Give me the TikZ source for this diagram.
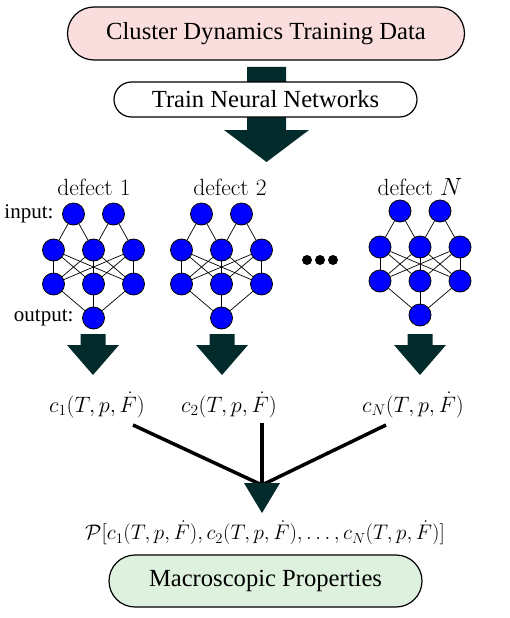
\documentclass[tikz,border=0pt]{standalone}
\usepackage{graphicx}
\usepackage[no-math]{fontspec}
\setmainfont{Liberation Serif}
\newfontfamily\lmfont{Latin Modern Roman}
\usetikzlibrary{positioning,calc,shapes.misc}

\definecolor{arrowdark}{RGB}{3,43,43}
\definecolor{datapink}{RGB}{250,222,222}
\definecolor{propgreen}{RGB}{222,240,222}

\newcommand{\cfun}[1]{\scalebox{1.075}{$#1$}}

\begin{document}
\begin{tikzpicture}[x=1pt,y=-1pt,
    stage/.style={rounded rectangle,draw,line width=1.2pt,inner sep=0pt,font=\fontsize{24.6}{28}\selectfont},
    neuron/.style={circle,draw,fill=blue,minimum size=22pt,inner sep=0pt,line width=0.8pt},
    link/.style={line width=0.7pt},
    lbl/.style={font=\fontsize{21}{24}\selectfont},
    deflbl/.style={font=\fontsize{23.5}{26}\selectfont\lmfont},
    mathlbl/.style={inner sep=1pt,font=\huge},
    dot/.style={circle,fill=black,minimum size=10pt,inner sep=0pt},
    merge/.style={line width=3.5pt}
]
\useasboundingbox (0,0) rectangle (510,618);

% Big arrow from the data to the networks
\fill[arrowdark] (247,67) -- (286,67) -- (286,130) -- (309,130) -- (266.5,162) -- (224,130) -- (247,130) -- cycle;

% Top stages
\node[stage,fill=datapink,minimum width=397pt,minimum height=53pt] (data) at (266,33.5) {Cluster Dynamics Training Data};
\node[stage,fill=white,minimum width=303pt,minimum height=35pt] (train) at (265.5,99.5) {Train Neural Networks};

% One small network per defect
\foreach \k/\cx/\dy in {1/93.5/0,2/221.5/0,N/420/-3} {
    \node[neuron] (in\k-1) at (\cx-20,214+\dy) {};
    \node[neuron] (in\k-2) at (\cx+20,214+\dy) {};
    \foreach \j/\ox in {1/-40,2/0,3/40} {
        \node[neuron] (ha\k-\j) at (\cx+\ox,250+\dy) {};
        \node[neuron] (hb\k-\j) at (\cx+\ox,284+\dy) {};
    }
    \node[neuron] (out\k) at (\cx,318+\dy) {};
    % connections
    \draw[link] (in\k-1) -- (ha\k-1);
    \draw[link] (in\k-1) -- (ha\k-2);
    \draw[link] (in\k-2) -- (ha\k-2);
    \draw[link] (in\k-2) -- (ha\k-3);
    \foreach \a in {1,2,3} {
        \foreach \b in {1,2,3} {
            \draw[link] (ha\k-\a) -- (hb\k-\b);
        }
        \draw[link] (hb\k-\a) -- (out\k);
    }
}

% Network labels
\node[deflbl] (def1) at (94,187) {defect 1};
\node[deflbl] (def2) at (230,187) {defect 2};
\node[deflbl] (defN) at (420,187) {defect $N$};
\node[lbl,anchor=east] (inlbl) at (57,214) {input:};
\node[lbl,anchor=east] (outlbl) at (77,318) {output:};

% dots between networks
\foreach \i/\dx in {1/307,2/320,3/333} {
    \node[dot] (dot\i) at (\dx,260) {};
}

% Arrows out of the networks
\foreach \ax in {93,222,420} {
    \fill[arrowdark] (\ax-12.5,334) -- (\ax+12.5,334) -- (\ax+12.5,345) -- (\ax+26,345) -- (\ax,375) -- (\ax-26,345) -- (\ax-12.5,345) -- cycle;
}

% Concentrations
\node[mathlbl] (c1) at (97,405) {\cfun{c_1(T,p,\dot F)}};
\node[mathlbl] (c2) at (229,405) {\cfun{c_2(T,p,\dot F)}};
\node[mathlbl] (cN) at (413,405) {\cfun{c_N(T,p,\dot F)}};

\coordinate (meet) at (262,485);
\draw[merge] ($(c1.center)+(36,20)$) -- (meet);
\draw[merge] ($(c2.center)+(33,18)$) -- (meet);
\draw[merge] ($(cN.center)+(-27,20)$) -- (meet);
\fill[arrowdark] (244,483) -- (280,483) -- (262,513) -- cycle;

% Property functional and result
\node[mathlbl] (pfun) at (265,533) {\scalebox{1.017}{$\mathcal{P}[c_1(T,p,\dot F),c_2(T,p,\dot F),\ldots,c_N(T,p,\dot F)]$}};
\node[stage,fill=propgreen,minimum width=313pt,minimum height=52pt] (props) at (265.5,581) {Macroscopic Properties};

\end{tikzpicture}
\end{document}
